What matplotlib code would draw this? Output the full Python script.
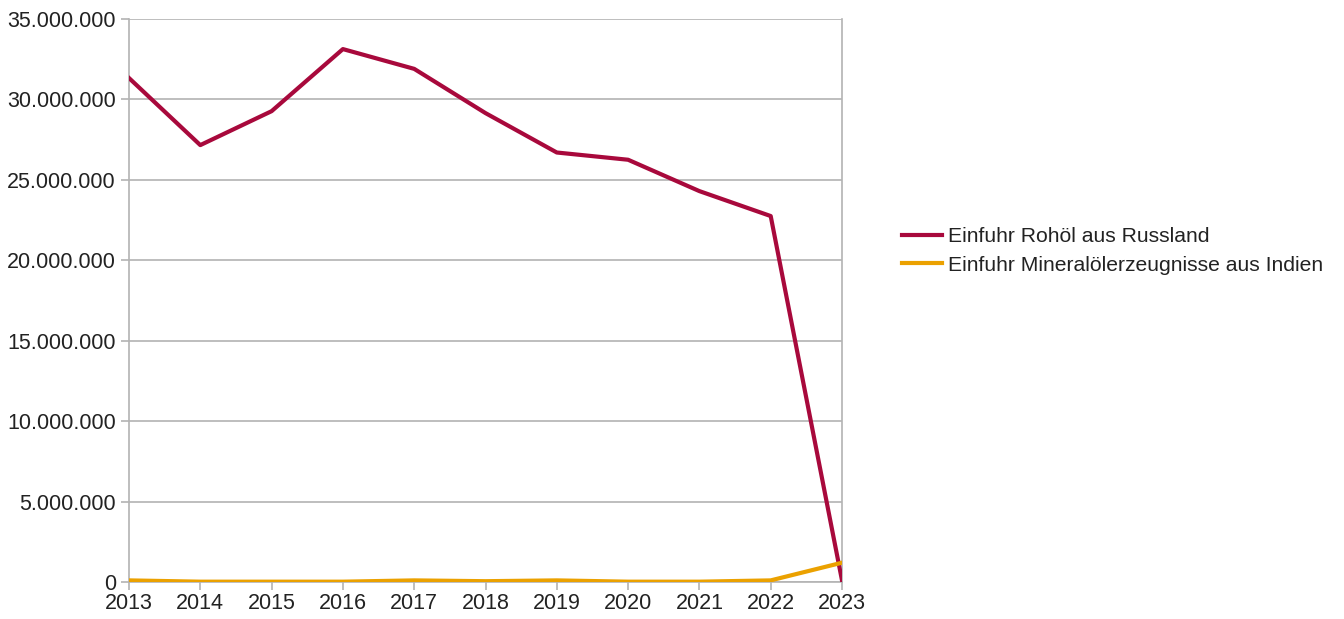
import matplotlib.pyplot as plt
from matplotlib.ticker import FuncFormatter, MultipleLocator

plt.rcParams['font.family'] = ['Liberation Sans', 'DejaVu Sans']

years = [2013, 2014, 2015, 2016, 2017, 2018, 2019, 2020, 2021, 2022, 2023]
russland = [31330000, 27160000, 29270000, 33130000, 31900000, 29150000,
            26700000, 26250000, 24300000, 22750000, 100000]
indien = [100000, 20000, 20000, 20000, 100000, 50000, 100000, 20000, 20000, 100000, 1200000]

label_russland = "Einfuhr Rohöl aus Russland"
label_indien = "Einfuhr Mineralölerzeugnisse aus Indien"

fig = plt.figure(figsize=(13.44, 6.19), dpi=100)
ax = fig.add_axes([129/1344, 37/619, (842-129)/1344, (582-19)/619])

ax.plot(years, russland, color='#a8093c', lw=3, label=label_russland, zorder=3)
ax.plot(years, indien, color='#eba100', lw=3, label=label_indien, zorder=3)

ax.set_xlim(2013, 2023)
ax.set_ylim(0, 35000000)
ax.set_xticks(years)
ax.yaxis.set_major_locator(MultipleLocator(5000000))
ax.yaxis.set_major_formatter(FuncFormatter(lambda v, p: f"{int(v):,}".replace(",", ".")))

ax.grid(axis='y', color='#b3b3b3', lw=1.2)
for s in ax.spines.values():
    s.set_color('#b3b3b3')
    s.set_linewidth(1.2)
ax.spines['top'].set_visible(False)
ax.tick_params(colors='#b3b3b3', labelcolor='#222222', labelsize=15.5, length=6, width=1.2)
ax.tick_params(axis='x', pad=2)

leg = fig.legend(loc='center left', bbox_to_anchor=(883/1344, 1 - 251/619), frameon=False,
                 fontsize=15.2, handlelength=1.9, handletextpad=0.3, labelspacing=0.45)
for t in leg.get_texts():
    t.set_color('#222222')

fig.savefig('out.png', dpi=100)
plt.close()
